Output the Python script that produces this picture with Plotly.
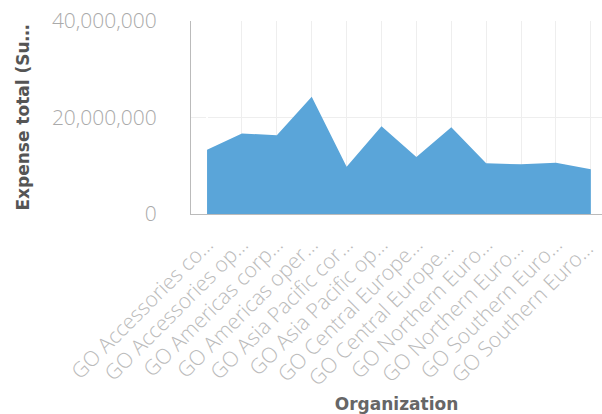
import plotly.graph_objects as go

categories = ["GO Accessories co…", "GO Accessories op…", "GO Americas corp…", "GO Americas oper…",
              "GO Asia Pacific cor…", "GO Asia Pacific op…", "GO Central Europe…", "GO Central Europe… ",
              "GO Northern Euro…", "GO Northern Euro… ", "GO Southern Euro…", "GO Southern Euro… "]
expense = [13.3e6, 16.7e6, 16.3e6, 24.3e6, 9.8e6, 18.2e6, 11.8e6, 18.0e6, 10.5e6, 10.3e6, 10.6e6, 9.3e6]

fig = go.Figure(go.Scatter(
    x=list(range(len(categories))), y=expense, mode="lines", fill="tozeroy",
    line=dict(color="#5aa5d9", width=0), fillcolor="#5aa5d9", hoverinfo="skip"))

fig.update_layout(
    width=602, height=414, margin=dict(l=191, r=0, t=21, b=200),
    paper_bgcolor="white", plot_bgcolor="white", showlegend=False,
    font=dict(family="Open Sans", color="#aaaaaa"),
    xaxis=dict(range=[-0.46, 11.32], tickmode="array", tickvals=list(range(len(categories))),
               ticktext=categories, tickangle=-45, showgrid=True, gridcolor="#eeeeee",
               showline=True, linecolor="#bbbbbb", linewidth=1, ticks="", automargin=False,
               ticklabelstandoff=9, ticklabeloverflow="allow",
               tickfont=dict(size=21, color="#bbbbbb", weight=300),
               title=dict(text="<b>Organization</b>", font=dict(size=17, color="#666666", family="DejaVu Sans"), standoff=12)),
    yaxis=dict(range=[0, 40e6], tickvals=[0, 20e6, 40e6], ticktext=["0", "20,000,000", "40,000,000"],
               showgrid=True, gridcolor="#eeeeee", showline=True, linecolor="#bbbbbb", linewidth=1,
               ticks="", zeroline=False, ticklabelstandoff=29, automargin=False, ticklabeloverflow="allow",
               tickfont=dict(size=21, color="#aaaaaa", weight=300),
               title=dict(text="<b>Expense total (Su…</b>", font=dict(size=17, color="#555555", family="DejaVu Sans"), standoff=17)),
)
fig.write_html("out.html", config={"displayModeBar": False},
               post_script="document.body.style.margin='0';")
